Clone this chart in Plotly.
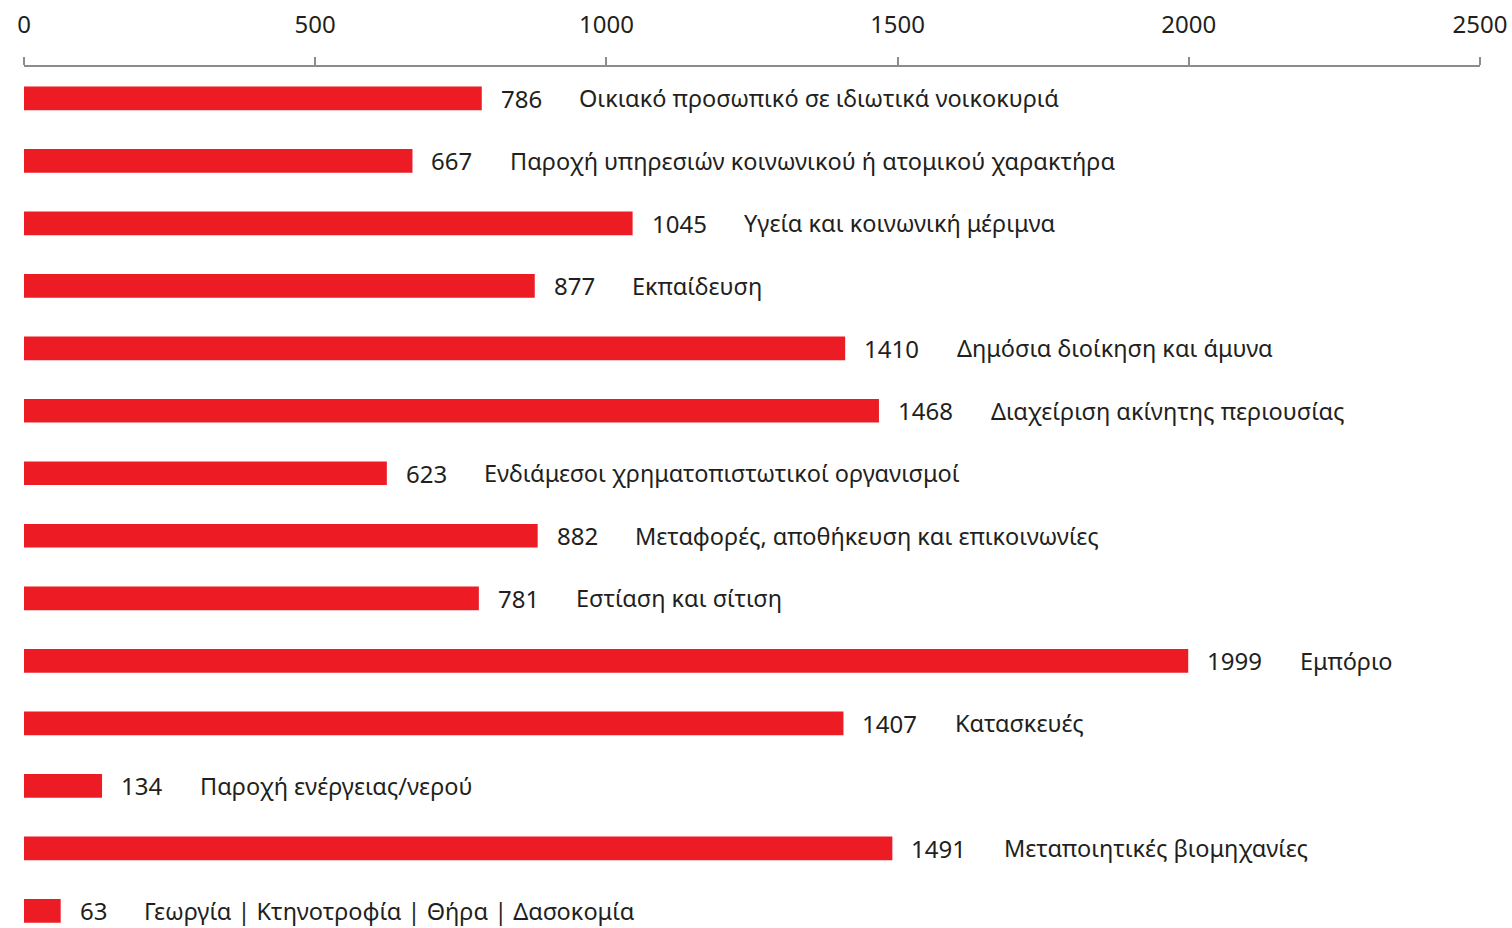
import plotly.graph_objects as go

categories = [
    "Οικιακό προσωπικό σε ιδιωτικά νοικοκυριά",
    "Παροχή υπηρεσιών κοινωνικού ή ατομικού χαρακτήρα",
    "Υγεία και κοινωνική μέριμνα",
    "Εκπαίδευση",
    "Δημόσια διοίκηση και άμυνα",
    "Διαχείριση ακίνητης περιουσίας",
    "Ενδιάμεσοι χρηματοπιστωτικοί οργανισμοί",
    "Μεταφορές, αποθήκευση και επικοινωνίες",
    "Εστίαση και σίτιση",
    "Εμπόριο",
    "Κατασκευές",
    "Παροχή ενέργειας/νερού",
    "Μεταποιητικές βιομηχανίες",
    "Γεωργία | Κτηνοτροφία | Θήρα | Δασοκομία",
]
values = [786, 667, 1045, 877, 1410, 1468, 623, 882, 781, 1999, 1407, 134, 1491, 63]
tick_values = [0, 500, 1000, 1500, 2000, 2500]

FONT = "Noto Sans"
TXT = "#231F20"
RED = "#ED1C24"
FS_NUM = 24
FS_CAT = 23.5

fig = go.Figure()
fig.add_trace(go.Bar(
    x=values, y=categories, orientation="h",
    marker=dict(color=RED, line=dict(width=0)),
    width=0.38, hoverinfo="skip",
))

DIGIT_W = 14.2
for c, v in zip(categories, values):
    fig.add_annotation(x=v, y=c, xref="x", yref="y", text=str(v),
                       showarrow=False, xanchor="left", yanchor="middle",
                       xshift=17, font=dict(family=FONT, size=FS_NUM, color=TXT))
    fig.add_annotation(x=v, y=c, xref="x", yref="y", text=c,
                       showarrow=False, xanchor="left", yanchor="middle",
                       xshift=17 + len(str(v)) * DIGIT_W + 36,
                       font=dict(family=FONT, size=FS_CAT, color=TXT))

fig.update_xaxes(
    side="top", range=[0, 2500], tickvals=tick_values,
    showline=True, linecolor="#8C8C8C", linewidth=2,
    ticks="outside", ticklen=8, tickwidth=2, tickcolor="#8C8C8C",
    showgrid=False, zeroline=False, automargin=False,
    tickfont=dict(family=FONT, size=FS_NUM, color=TXT),
    ticklabelstandoff=14,
)
fig.update_yaxes(
    categoryorder="array", categoryarray=categories,
    range=[13.276, -0.5], showticklabels=False, showgrid=False,
    zeroline=False, showline=False, ticks="", automargin=False,
)
fig.update_layout(
    width=1512, height=928,
    margin=dict(l=24, r=32, t=67, b=0),
    plot_bgcolor="white", paper_bgcolor="white",
    showlegend=False, bargap=0.62,
)
fig.write_html("out.html", config={"displayModeBar": False},
               post_script="document.body.style.margin='0';document.body.style.overflow='hidden';")
